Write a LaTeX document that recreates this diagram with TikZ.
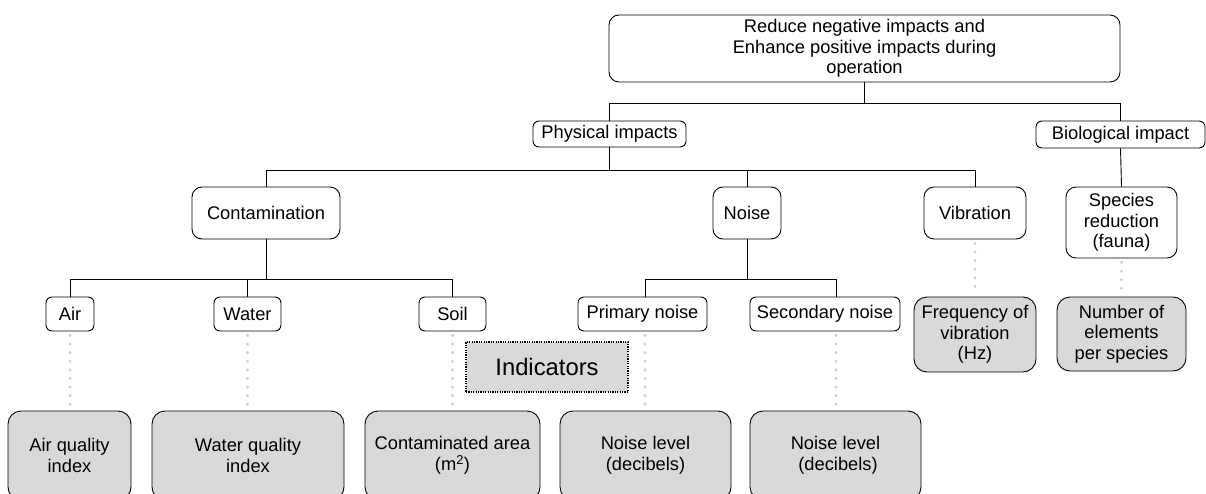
\documentclass[tikz,border=0pt]{standalone}
\usepackage{fontspec}
\setmainfont{Liberation Sans}
\definecolor{boxgray}{RGB}{217,217,217}
\definecolor{dotgray}{RGB}{208,208,208}

\begin{document}
\begin{tikzpicture}[x=1pt, y=-1pt,
  goalbox/.style={draw=black, line width=0.9pt, rounded corners=10pt, align=center, inner sep=0pt,
    font=\fontsize{18.3}{20.5}\selectfont},
  smallbox/.style={goalbox, rounded corners=6pt},
  indbox/.style={goalbox, fill=boxgray, rounded corners=13pt},
  link/.style={draw=black, line width=0.9pt},
  dots/.style={draw=dotgray, line width=3.4pt, line cap=round, dash pattern=on 0pt off 8.6pt,
    shorten <=4pt, shorten >=4pt}]

\useasboundingbox (0,0) rectangle (1206,494);
\clip (0,0) rectangle (1206,494);

% goal and impact types
\node[goalbox, minimum width=511pt, minimum height=67pt] (goal) at (864.5,48.5)
  {Reduce negative impacts and\\ Enhance positive impacts during\\ operation};
\node[smallbox, minimum width=153pt, minimum height=26pt] (phys) at (609.5,134) {Physical impacts};
\node[smallbox, minimum width=169pt, minimum height=27pt] (bio) at (1120.5,134.5) {Biological impact};

% impacts
\node[goalbox, minimum width=148pt, minimum height=52pt] (cont) at (266,213) {Contamination};
\node[goalbox, minimum width=68pt, minimum height=52pt] (noise) at (747,213) {Noise};
\node[goalbox, minimum width=102pt, minimum height=52pt] (vib) at (975,213) {Vibration};
\node[goalbox, minimum width=111pt, minimum height=71pt] (spec) at (1121.5,222.5) {Species\\ reduction\\ (fauna)};

% sub impacts
\node[smallbox, minimum width=48pt, minimum height=34pt] (air) at (70,314) {Air};
\node[smallbox, minimum width=67pt, minimum height=34pt] (water) at (247.5,314) {Water};
\node[smallbox, minimum width=67pt, minimum height=34pt] (soil) at (452.5,314) {Soil};
\node[smallbox, minimum width=129pt, minimum height=34pt] (prim) at (642.5,314) {Primary noise};
\node[smallbox, minimum width=150pt, minimum height=34pt] (sec) at (825,314) {Secondary noise};

% indicators
\node[goalbox, fill=boxgray, rounded corners=0pt, dash pattern=on 1.2pt off 1.2pt, line width=1.3pt,
  minimum width=162pt, minimum height=50pt, font=\fontsize{23.8}{26}\selectfont] (ind) at (547,367) {Indicators};
\node[indbox, minimum width=122pt, minimum height=75pt] (freq) at (975,334.5) {Frequency of\\ vibration\\ (Hz)};
\node[indbox, minimum width=129pt, minimum height=74pt] (num) at (1121.5,334) {Number of\\ elements\\ per species};
\node[indbox, minimum width=123pt, minimum height=89pt] (airq) at (69.5,455.5) {Air quality\\ index};
\node[indbox, minimum width=192pt, minimum height=89pt] (waterq) at (248,455.5) {Water quality\\ index};
\node[indbox, minimum width=175pt, minimum height=89pt] (conta) at (452.5,455.5) {Contaminated area\\ (m\textsuperscript{2})};
\node[indbox, minimum width=171pt, minimum height=89pt] (nla) at (645.5,455.5) {Noise level\\ (decibels)};
\node[indbox, minimum width=171pt, minimum height=89pt] (nlb) at (835.5,455.5) {Noise level\\ \ (decibels)};

% tree
\draw[link] (goal.south) -- ++(0,21) -| (phys.north);
\draw[link] (goal.south) -- ++(0,21) -| (bio.north);
\draw[link] (bio.south) -- (spec.north);
\draw[link] (phys.south) -- ++(0,23) -| (cont.north);
\draw[link] (phys.south) -- ++(0,23) -| (noise.north);
\draw[link] (phys.south) -- ++(0,23) -| (vib.north);
\draw[link] (cont.south) -- ++(0,40) -| (air.north);
\draw[link] (cont.south) -- ++(0,40) -| (water.north);
\draw[link] (cont.south) -- ++(0,40) -| (soil.north);
\draw[link] (noise.south) -- ++(0,40) -| ([xshift=2.5pt]prim.north);
\draw[link] (noise.south) -- ++(0,40) -| ([xshift=11pt]sec.north);

% indicator links
\draw[dots] (air.south) -- (air.south |- airq.north);
\draw[dots] (water.south) -- (water.south |- waterq.north);
\draw[dots] (soil.south) -- (soil.south |- conta.north);
\draw[dots] ([xshift=2.5pt]prim.south) -- ([xshift=2.5pt]prim.south |- nla.north);
\draw[dots] ([xshift=11pt]sec.south) -- ([xshift=11pt]sec.south |- nlb.north);
\draw[dots] (vib.south) -- (freq.north);
\draw[dots] (spec.south) -- (spec.south |- num.north);
\end{tikzpicture}
\end{document}
